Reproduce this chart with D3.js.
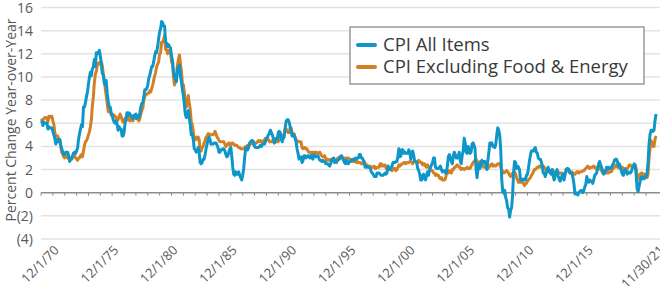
<!DOCTYPE html>
<html>
<head>
<meta charset="utf-8">
<script src="https://cdn.jsdelivr.net/npm/d3@7"></script>
<style>
  body { margin: 0; background: #fff; }
  svg text { font-family: "Open Sans", "Noto Sans", sans-serif; }
</style>
</head>
<body>
<svg id="chart" width="660" height="286"></svg>
<script>
// monthly year-over-year % change, Jan 1970 .. Nov 2021
const cpiAll = [
  6.2, 6.1, 5.8, 6.1, 6.0, 6.0, 6.0, 5.5, 5.7, 5.6, 5.6, 5.6,
  5.3, 5.0, 4.7, 4.2, 4.4, 4.6, 4.4, 4.6, 4.1, 3.8, 3.5, 3.3,
  3.3, 3.5, 3.5, 3.5, 3.2, 2.7, 2.9, 2.9, 3.2, 3.4, 3.5, 3.4,
  3.6, 3.9, 4.6, 5.1, 5.5, 5.9, 5.7, 7.4, 7.4, 7.8, 8.3, 8.7,
  9.4, 10.0, 10.4, 10.1, 10.7, 10.9, 11.5, 10.9, 12.1, 12.0, 12.1, 12.3,
  11.8, 11.2, 10.3, 10.2, 9.5, 9.3, 9.7, 8.6, 7.9, 7.4, 7.4, 6.9,
  6.7, 6.3, 6.1, 6.0, 6.2, 5.9, 5.4, 5.7, 5.5, 5.5, 4.9, 4.9,
  5.2, 6.0, 6.4, 6.9, 6.7, 6.9, 6.8, 6.6, 6.6, 6.4, 6.7, 6.7,
  6.8, 6.4, 6.6, 6.5, 6.9, 7.4, 7.7, 7.8, 8.3, 8.9, 8.9, 9.0,
  9.3, 9.9, 10.1, 10.5, 10.9, 10.9, 11.3, 11.8, 12.2, 12.1, 12.6, 13.3,
  13.9, 14.2, 14.8, 14.7, 14.4, 14.4, 13.1, 12.9, 12.6, 12.8, 12.6, 12.5,
  11.8, 11.4, 10.5, 10.0, 9.8, 9.6, 10.8, 10.8, 11.0, 10.1, 9.6, 8.9,
  8.4, 7.6, 6.8, 6.5, 6.7, 7.1, 6.4, 5.9, 5.0, 5.1, 4.6, 3.8,
  3.7, 3.5, 3.6, 3.9, 3.5, 2.6, 2.5, 2.6, 2.9, 2.9, 3.3, 3.8,
  4.2, 4.6, 4.8, 4.6, 4.2, 4.2, 4.2, 4.3, 4.3, 4.3, 4.1, 3.9,
  3.5, 3.5, 3.7, 3.7, 3.8, 3.8, 3.6, 3.3, 3.1, 3.2, 3.5, 3.8,
  3.9, 3.1, 2.2, 1.6, 1.5, 1.8, 1.6, 1.6, 1.8, 1.5, 1.3, 1.1,
  1.5, 2.1, 3.0, 3.8, 3.9, 3.7, 3.9, 4.3, 4.4, 4.5, 4.5, 4.4,
  4.0, 3.9, 3.9, 3.9, 3.9, 4.0, 4.1, 4.0, 4.2, 4.2, 4.2, 4.4,
  4.7, 4.8, 5.0, 5.1, 5.4, 5.2, 5.0, 4.7, 4.3, 4.5, 4.7, 4.6,
  5.2, 5.3, 5.2, 4.7, 4.4, 4.7, 4.8, 5.6, 6.2, 6.3, 6.3, 6.1,
  5.7, 5.3, 4.9, 4.9, 5.0, 4.7, 4.4, 3.8, 3.4, 2.9, 3.0, 3.1,
  2.6, 2.8, 3.2, 3.2, 3.0, 3.1, 3.2, 3.1, 3.0, 3.2, 3.0, 2.9,
  3.3, 3.2, 3.1, 3.2, 3.2, 3.0, 2.8, 2.8, 2.7, 2.8, 2.7, 2.7,
  2.5, 2.5, 2.5, 2.4, 2.3, 2.5, 2.8, 2.9, 3.0, 2.6, 2.7, 2.7,
  2.8, 2.9, 2.9, 3.1, 3.2, 3.0, 2.8, 2.6, 2.5, 2.8, 2.6, 2.5,
  2.7, 2.7, 2.8, 2.9, 2.9, 2.8, 3.0, 2.9, 3.0, 3.0, 3.3, 3.3,
  3.0, 3.0, 2.8, 2.5, 2.2, 2.3, 2.2, 2.2, 2.2, 2.1, 1.8, 1.7,
  1.6, 1.4, 1.4, 1.4, 1.7, 1.7, 1.7, 1.6, 1.5, 1.5, 1.5, 1.6,
  1.7, 1.6, 1.7, 2.3, 2.1, 2.0, 2.1, 2.3, 2.6, 2.6, 2.6, 2.7,
  2.7, 3.2, 3.8, 3.1, 3.2, 3.7, 3.7, 3.4, 3.5, 3.4, 3.4, 3.4,
  3.7, 3.5, 2.9, 3.3, 3.6, 3.2, 2.7, 2.7, 2.6, 2.1, 1.9, 1.6,
  1.1, 1.1, 1.5, 1.6, 1.2, 1.1, 1.5, 1.8, 1.5, 2.0, 2.2, 2.4,
  2.6, 3.0, 3.0, 2.2, 2.1, 2.1, 2.1, 2.2, 2.3, 2.0, 1.8, 1.9,
  1.9, 1.7, 1.7, 2.3, 3.1, 3.3, 3.0, 2.7, 2.5, 3.2, 3.5, 3.3,
  3.0, 3.0, 3.1, 3.5, 2.8, 2.5, 3.2, 3.6, 4.7, 4.3, 3.5, 3.4,
  4.0, 3.6, 3.4, 3.5, 4.2, 4.3, 4.1, 3.8, 2.1, 1.3, 2.0, 2.5,
  2.1, 2.4, 2.8, 2.6, 2.7, 2.7, 2.4, 2.0, 2.8, 3.5, 4.3, 4.1,
  4.3, 4.0, 4.0, 3.9, 4.2, 5.0, 5.6, 5.4, 4.9, 3.7, 1.1, 0.1,
  0.0, 0.2, -0.4, -0.7, -1.3, -1.4, -2.1, -1.5, -1.3, -0.2, 1.8, 2.7,
  2.6, 2.1, 2.3, 2.2, 2.0, 1.1, 1.2, 1.1, 1.1, 1.2, 1.1, 1.5,
  1.6, 2.1, 2.7, 3.2, 3.6, 3.6, 3.6, 3.8, 3.9, 3.5, 3.4, 3.0,
  2.9, 2.9, 2.7, 2.3, 1.7, 1.7, 1.4, 1.7, 2.0, 2.2, 1.8, 1.7,
  1.6, 2.0, 1.5, 1.1, 1.4, 1.8, 2.0, 1.5, 1.2, 1.0, 1.2, 1.5,
  1.6, 1.1, 1.5, 2.0, 2.1, 2.1, 2.0, 1.7, 1.7, 1.7, 1.3, 0.8,
  -0.1, 0.0, -0.1, -0.2, 0.0, 0.1, 0.2, 0.2, 0.0, 0.2, 0.5, 0.7,
  1.4, 1.0, 0.9, 1.1, 1.0, 1.0, 0.8, 1.1, 1.5, 1.6, 1.7, 2.1,
  2.5, 2.7, 2.4, 2.2, 1.9, 1.6, 1.7, 1.9, 2.2, 2.0, 2.2, 2.1,
  2.1, 2.2, 2.4, 2.5, 2.8, 2.9, 2.9, 2.7, 2.3, 2.5, 2.2, 1.9,
  1.6, 1.5, 1.9, 2.0, 1.8, 1.6, 1.8, 1.7, 1.7, 1.8, 2.1, 2.3,
  2.5, 2.3, 1.5, 0.3, 0.1, 0.6, 1.0, 1.3, 1.4, 1.2, 1.2, 1.4,
  1.4, 1.7, 2.6, 4.2, 5.0, 5.4, 5.4, 5.3, 5.4, 6.2, 6.8
];

const cpiCore = [
  6.2, 6.3, 6.3, 6.4, 6.5, 6.5, 6.4, 6.1, 6.6, 6.5, 6.6, 6.6,
  6.2, 5.9, 5.2, 4.9, 4.8, 4.9, 4.6, 4.6, 4.0, 3.5, 3.3, 3.1,
  3.0, 3.2, 3.1, 3.0, 3.0, 2.8, 3.0, 2.9, 3.1, 3.4, 3.2, 3.0,
  2.9, 2.8, 3.0, 3.0, 3.2, 3.3, 3.1, 3.6, 4.1, 4.4, 4.5, 4.7,
  5.0, 5.3, 5.7, 6.3, 7.5, 8.3, 9.5, 10.2, 10.5, 11.0, 11.2, 11.1,
  11.3, 11.3, 11.0, 10.3, 9.8, 9.0, 8.4, 7.7, 7.0, 7.0, 7.1, 6.7,
  6.8, 6.7, 6.7, 6.6, 6.5, 6.2, 6.3, 6.6, 6.8, 6.6, 6.3, 6.1,
  6.3, 6.4, 6.2, 6.5, 6.3, 6.6, 6.2, 6.3, 6.4, 6.2, 6.5, 6.5,
  6.4, 6.4, 6.4, 6.2, 6.4, 6.8, 7.1, 7.3, 8.0, 8.3, 8.5, 8.5,
  8.6, 8.6, 8.8, 8.7, 9.0, 9.3, 9.7, 10.1, 10.4, 10.9, 11.1, 11.3,
  12.0, 12.1, 13.0, 13.0, 13.2, 13.6, 12.4, 12.3, 12.0, 12.3, 12.1, 12.2,
  11.3, 11.1, 10.1, 9.3, 9.6, 9.7, 11.0, 11.5, 11.9, 11.2, 10.5, 9.5,
  9.3, 8.7, 7.6, 7.4, 7.9, 8.4, 7.7, 7.2, 6.1, 5.9, 5.3, 4.5,
  4.7, 4.8, 4.6, 4.8, 4.6, 3.6, 3.6, 3.9, 4.0, 4.3, 4.5, 4.8,
  4.9, 5.1, 5.1, 5.0, 5.0, 5.0, 5.0, 5.1, 5.3, 5.1, 4.8, 4.7,
  4.5, 4.4, 4.4, 4.4, 4.4, 4.4, 4.2, 4.0, 4.1, 4.2, 4.3, 4.1,
  4.1, 4.3, 4.3, 4.2, 4.1, 4.1, 4.1, 4.0, 3.9, 3.9, 3.8, 3.8,
  3.8, 3.8, 3.9, 4.0, 4.0, 4.1, 4.0, 4.2, 4.3, 4.3, 4.2, 4.2,
  4.3, 4.3, 4.3, 4.4, 4.5, 4.4, 4.5, 4.4, 4.4, 4.5, 4.5, 4.7,
  4.6, 4.6, 4.6, 4.4, 4.4, 4.4, 4.5, 4.4, 4.3, 4.4, 4.4, 4.4,
  4.4, 4.6, 5.0, 4.8, 4.8, 5.0, 5.0, 5.5, 5.5, 5.3, 5.2, 5.2,
  5.6, 5.6, 5.2, 5.1, 5.1, 4.8, 4.6, 4.5, 4.4, 4.4, 4.4, 4.4,
  3.9, 3.8, 3.9, 3.9, 3.8, 3.8, 3.6, 3.5, 3.5, 3.4, 3.5, 3.3,
  3.5, 3.4, 3.5, 3.5, 3.4, 3.4, 3.5, 3.3, 3.2, 3.1, 3.1, 3.2,
  2.9, 2.8, 2.9, 2.8, 2.8, 2.9, 2.9, 2.9, 2.9, 2.9, 2.8, 2.6,
  3.0, 3.0, 3.1, 3.1, 3.1, 3.0, 3.0, 3.0, 2.9, 3.0, 3.0, 3.0,
  2.9, 2.9, 2.8, 2.7, 2.7, 2.7, 2.7, 2.6, 2.7, 2.6, 2.6, 2.6,
  2.5, 2.5, 2.5, 2.7, 2.5, 2.4, 2.4, 2.3, 2.2, 2.3, 2.2, 2.2,
  2.2, 2.3, 2.1, 2.1, 2.2, 2.2, 2.2, 2.5, 2.5, 2.3, 2.3, 2.4,
  2.4, 2.1, 2.1, 2.2, 2.0, 2.1, 2.1, 1.9, 2.0, 2.1, 2.1, 1.9,
  2.0, 2.2, 2.4, 2.3, 2.4, 2.5, 2.5, 2.6, 2.6, 2.5, 2.6, 2.6,
  2.6, 2.7, 2.7, 2.6, 2.5, 2.7, 2.7, 2.7, 2.6, 2.6, 2.8, 2.7,
  2.6, 2.6, 2.4, 2.5, 2.5, 2.3, 2.2, 2.4, 2.2, 2.2, 2.0, 1.9,
  1.9, 1.7, 1.7, 1.5, 1.6, 1.5, 1.5, 1.3, 1.2, 1.3, 1.1, 1.1,
  1.1, 1.2, 1.6, 1.8, 1.7, 1.9, 1.8, 1.7, 2.0, 2.0, 2.2, 2.2,
  2.3, 2.4, 2.3, 2.2, 2.2, 2.0, 2.1, 2.1, 2.0, 2.1, 2.1, 2.2,
  2.1, 2.1, 2.1, 2.3, 2.4, 2.6, 2.7, 2.8, 2.9, 2.7, 2.6, 2.6,
  2.7, 2.7, 2.5, 2.3, 2.2, 2.2, 2.2, 2.1, 2.1, 2.2, 2.3, 2.4,
  2.5, 2.3, 2.4, 2.3, 2.3, 2.4, 2.5, 2.5, 2.5, 2.2, 2.0, 1.8,
  1.7, 1.8, 1.8, 1.9, 1.8, 1.7, 1.5, 1.4, 1.5, 1.7, 1.7, 1.8,
  1.6, 1.3, 1.1, 0.9, 0.9, 0.9, 0.9, 0.9, 0.8, 0.6, 0.8, 0.8,
  1.0, 1.1, 1.2, 1.3, 1.5, 1.6, 1.8, 2.0, 2.0, 2.1, 2.2, 2.2,
  2.3, 2.2, 2.3, 2.3, 2.3, 2.2, 2.1, 1.9, 2.0, 2.0, 1.9, 1.9,
  1.9, 2.0, 1.9, 1.7, 1.7, 1.6, 1.7, 1.8, 1.7, 1.7, 1.7, 1.7,
  1.6, 1.6, 1.7, 1.8, 2.0, 1.9, 1.9, 1.7, 1.7, 1.8, 1.7, 1.6,
  1.6, 1.7, 1.8, 1.8, 1.7, 1.8, 1.8, 1.8, 1.9, 1.9, 2.0, 2.1,
  2.2, 2.3, 2.2, 2.1, 2.2, 2.2, 2.2, 2.3, 2.2, 2.1, 2.1, 2.2,
  2.3, 2.2, 2.0, 1.9, 1.7, 1.7, 1.7, 1.7, 1.7, 1.8, 1.7, 1.8,
  1.8, 1.8, 2.1, 2.1, 2.2, 2.3, 2.4, 2.2, 2.2, 2.1, 2.2, 2.2,
  2.2, 2.1, 2.0, 2.1, 2.0, 2.1, 2.2, 2.4, 2.4, 2.3, 2.3, 2.3,
  2.3, 2.4, 2.1, 1.4, 1.2, 1.2, 1.6, 1.7, 1.7, 1.6, 1.6, 1.6,
  1.4, 1.3, 1.6, 3.0, 3.8, 4.5, 4.3, 4.0, 4.0, 4.6, 4.9
];

const seriesNames = ['CPI All Items', 'CPI Excluding Food & Energy'];
const seriesColors = ['#0f96c9', '#d38024'];

const yTicks = [-4, -2, 0, 2, 4, 6, 8, 10, 12, 14, 16];
const xTickDates = ['1970-12-01', '1975-12-01', '1980-12-01', '1985-12-01', '1990-12-01',
  '1995-12-01', '2000-12-01', '2005-12-01', '2010-12-01', '2015-12-01', '2021-11-30'];
const xTickLabels = ['12/1/70', '12/1/75', '12/1/80', '12/1/85', '12/1/90',
  '12/1/95', '12/1/00', '12/1/05', '12/1/10', '12/1/15', '11/30/21'];

const startMonth = new Date(1970, 0, 1);
const months = d3.timeMonth.range(startMonth, d3.timeMonth.offset(startMonth, cpiAll.length));
const parse = d3.timeParse('%Y-%m-%d');

const svg = d3.select('#chart');

const x = d3.scaleTime()
  .domain([months[0], months[months.length - 1]])
  .range([41, 656]);

const y = d3.scaleLinear()
  .domain([-4, 16])
  .range([239, 7.5]);

// gridlines
svg.append('g')
  .selectAll('line')
  .data(yTicks.filter(d => d !== 0))
  .enter()
  .append('line')
  .attr('x1', 41)
  .attr('x2', 660)
  .attr('y1', d => y(d))
  .attr('y2', d => y(d))
  .attr('stroke', '#e3e3e3')
  .attr('stroke-width', 1.5);

// y tick labels
svg.append('g')
  .selectAll('text')
  .data(yTicks)
  .enter()
  .append('text')
  .attr('x', 33)
  .attr('y', d => y(d))
  .attr('dy', '0.36em')
  .attr('text-anchor', 'end')
  .attr('font-size', 14)
  .attr('fill', '#595959')
  .text(d => d < 0 ? `(${-d})` : d);

svg.append('text')
  .attr('transform', 'translate(11,120) rotate(-90)')
  .attr('text-anchor', 'middle')
  .attr('dy', '0.35em')
  .attr('font-size', 14)
  .attr('fill', '#595959')
  .text('Percent Change Year-over-Year');

// zero axis with yearly ticks
const years = d3.timeYear.range(months[0], months[months.length - 1]);
svg.append('line')
  .attr('x1', 41)
  .attr('x2', 660)
  .attr('y1', y(0))
  .attr('y2', y(0))
  .attr('stroke', '#8c8c8c')
  .attr('stroke-width', 1.5);

svg.append('g')
  .selectAll('line')
  .data(years)
  .enter()
  .append('line')
  .attr('x1', d => x(d))
  .attr('x2', d => x(d))
  .attr('y1', y(0))
  .attr('y2', y(0) + 3)
  .attr('stroke', '#8c8c8c')
  .attr('stroke-width', 1);

// x labels
svg.append('g')
  .selectAll('text')
  .data(xTickDates)
  .enter()
  .append('text')
  .attr('transform', d => `translate(${x(parse(d)) + 8},251) rotate(-45)`)
  .attr('text-anchor', 'end')
  .attr('font-size', 13)
  .attr('fill', '#595959')
  .text((d, i) => xTickLabels[i]);

// lines
const line = d3.line()
  .x((d, i) => x(months[i]))
  .y(d => y(d));

[cpiCore, cpiAll].forEach((values, k) => {
  svg.append('path')
    .datum(values)
    .attr('fill', 'none')
    .attr('stroke', seriesColors[1 - k])
    .attr('stroke-width', 3)
    .attr('stroke-linejoin', 'round')
    .attr('d', line);
});

// legend
const legend = svg.append('g').attr('transform', 'translate(350,27)');
legend.append('rect')
  .attr('width', 294)
  .attr('height', 57)
  .attr('fill', '#fff')
  .attr('stroke', '#9a9a9a')
  .attr('stroke-width', 1.5);

seriesNames.forEach((name, i) => {
  const row = legend.append('g').attr('transform', `translate(0,${18 + i * 22})`);
  row.append('line')
    .attr('x1', 8)
    .attr('x2', 25)
    .attr('stroke', seriesColors[i])
    .attr('stroke-width', 4)
    .attr('stroke-linecap', 'round');
  row.append('text')
    .attr('x', 33)
    .attr('dy', '0.35em')
    .attr('font-size', 18.5)
    .attr('fill', '#3a3a3a')
    .text(name);
});
</script>
</body>
</html>
